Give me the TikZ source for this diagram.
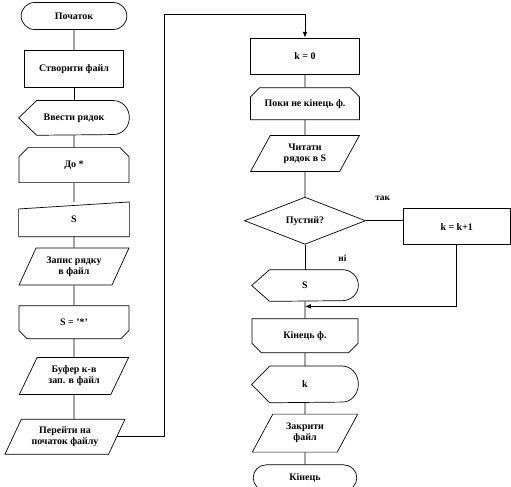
\documentclass[tikz,border=0pt]{standalone}
\usepackage{fontspec}
\setmainfont{Liberation Serif}
\usetikzlibrary{arrows.meta,positioning,shapes.geometric,shapes.misc}

% display block: pointed on the left, round on the right
\newcommand{\dispoutline}[2]{%
  \draw[line] ([xshift=0.54cm]#1.north west) -- ([xshift=-0.48cm]#1.north east)
    arc[start angle=90, end angle=-90, x radius=0.48cm, y radius=#2]
    -- ([xshift=0.54cm]#1.south west) -- (#1.west) -- cycle;}
% manual input: top edge rises to the right
\newcommand{\maninoutline}[1]{%
  \draw[line] (#1.south west) -- ([yshift=-0.21cm]#1.north west)
    -- (#1.north east) -- (#1.south east) -- cycle;}

\begin{document}
\begin{tikzpicture}[
        x=0.03cm, y=0.03cm,
        line/.style={line width=0.6pt, black},
        arr/.style={line, -{Latex[length=5pt, width=4pt]}},
        base/.style={line, minimum width=3.3cm, inner sep=1pt, align=center,
                     font=\fontsize{8.5}{9.5}\selectfont\bfseries},
        term/.style={base, draw, rounded rectangle},
        proc/.style={base, draw, rectangle},
        disp/.style={base, rectangle},
        manin/.style={base, rectangle},
        io/.style={base, draw, trapezium, trapezium stretches=true,
                   trapezium left angle=60, trapezium right angle=120},
        loopbeg/.style={base, draw, chamfered rectangle,
                        chamfered rectangle corners={north west, north east},
                        chamfered rectangle xsep=0.3cm},
        loopfin/.style={base, draw, chamfered rectangle,
                        chamfered rectangle corners={south west, south east},
                        chamfered rectangle xsep=0.3cm},
        decis/.style={base, draw, diamond, minimum width=3.63cm,
                      minimum height=1.41cm, inner sep=0pt},
        lbl/.style={font=\fontsize{8}{9}\selectfont\bfseries, inner sep=1pt}
      ]
        \useasboundingbox (0,0) rectangle (511,-487);

        % left column
        \node[term, minimum width=3.24cm, minimum height=0.81cm] (start) at (74,-16) {Початок};
        \node[proc, minimum width=2.97cm, minimum height=1.11cm, below=0.6cm of start] (mkfile)
          {Створити файл};
        \node[disp, minimum height=1.02cm, below=0.39cm of mkfile] (inp) {Ввести  рядок};
        \node[loopbeg, minimum height=1.05cm, below=0.36cm of inp] (doloop) {До *};
        \node[manin, minimum height=1.02cm, below=0.57cm of doloop] (sin) {S};
        \node[io, minimum height=1.11cm, below=0.33cm of sin] (wr) {Запис рядку\\в файл};
        \node[loopfin, minimum height=0.99cm, below=0.6cm of wr] (doend) {S = '*'};
        \node[io, minimum height=1.11cm, below=0.54cm of doend] (buf) {Буфер к-в\\зап. в файл};
        \node[io, minimum width=3.6cm, minimum height=1.05cm, below=0.72cm of buf, xshift=-0.27cm] (gotop)
          {Перейти на\\початок файлу};

        % right column
        \node[proc, minimum width=3.27cm, minimum height=1.08cm] (kzero) at (305,-56) {k = 0};
        \node[loopbeg, minimum width=3.27cm, minimum height=0.96cm, below=0.39cm of kzero] (whl)
          {Поки  не кінець ф.};
        \node[io, minimum width=3.27cm, minimum height=1.08cm, below=0.45cm of whl] (rd)
          {Читати\\рядок в S};
        \node[decis, below=0.75cm of rd] (empty) {Пустий?};
        \node[proc, minimum width=3.21cm, minimum height=1.08cm, right=1.11cm of empty, yshift=-0.18cm] (inc)
          {k = k+1};
        \node[disp, minimum width=3.18cm, minimum height=0.93cm, below=0.75cm of empty] (outs) {S};
        \node[loopfin, minimum width=3.18cm, minimum height=1.02cm, below=0.51cm of outs] (whlend)
          {Кінець ф.};
        \node[disp, minimum width=3.18cm, minimum height=1.08cm, below=0.39cm of whlend] (outk) {k};
        \node[io, minimum width=3.18cm, minimum height=1.14cm, below=0.33cm of outk] (cls)
          {Закрити\\файл};
        \node[term, minimum width=3.18cm, minimum height=0.78cm, below=0.36cm of cls] (fin) {Кінець};

        \node[lbl, above right=0.57cm and 0.24cm of empty.east] (yes) {так};
        \node[lbl, below right=0.27cm and 0.96cm of empty.south] (no) {ні};

        \dispoutline{inp}{0.51cm}
        \dispoutline{outs}{0.465cm}
        \dispoutline{outk}{0.54cm}
        \maninoutline{sin}

        \coordinate[right=1.4cm of gotop.east] (turn);
        \coordinate[above=0.69cm of kzero] (top);
        \coordinate[below=0.15cm of outs] (merge);

        \draw[line] (start) -- (mkfile);
        \draw[line] (mkfile) -- (inp);
        \draw[line] (inp) -- (doloop);
        \draw[line] (doloop) -- (sin);
        \draw[line] (sin) -- (wr);
        \draw[line] (wr) -- (doend);
        \draw[line] (doend) -- (buf);
        \draw[line] (buf) -- (buf.south |- gotop.north);
        \draw[arr] (gotop.east) -- (turn) |- (top) -- (kzero);

        \draw[line] (kzero) -- (whl);
        \draw[line] (whl) -- (rd);
        \draw[line] (rd) -- (empty);
        \draw[line] (empty.east) -- (empty.east -| inc.west);
        \draw[line] (empty) -- (outs);
        \draw[arr] (inc.south) |- (merge);
        \draw[line] (outs) -- (whlend);
        \draw[line] (whlend) -- (outk);
        \draw[line] (outk) -- (cls);
        \draw[line] (cls) -- (fin);
      \end{tikzpicture}
\end{document}
